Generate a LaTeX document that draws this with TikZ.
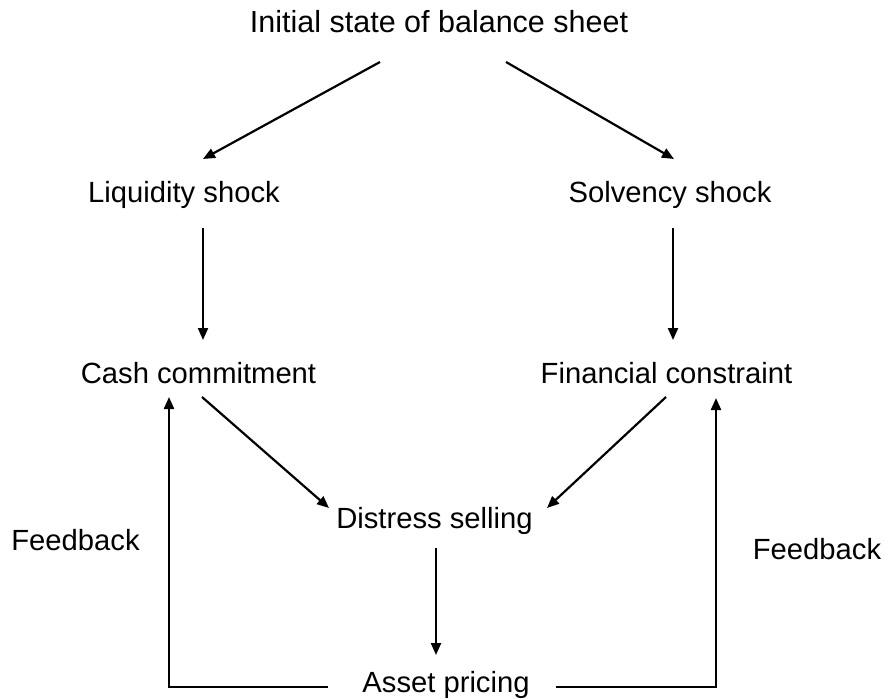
\documentclass[tikz,border=0pt]{standalone}
\usepackage{fontspec}
\setmainfont{Liberation Sans}
\usetikzlibrary{arrows.meta}
\begin{document}
\begin{tikzpicture}[x=1pt,y=-1pt,
  lbl/.style={anchor=base,inner sep=0pt,font=\fontsize{29.2}{35}\selectfont},
  arr/.style={line width=2.2pt,-{Triangle[length=12pt,width=10pt]}},
  fb/.style={line width=2.2pt,-{Triangle[length=12pt,width=10pt]}}]
\useasboundingbox (0,0) rectangle (885,700);
\node[lbl,font=\fontsize{30.5}{36}\selectfont] (init) at (439,33) {Initial state of balance sheet};
\node[lbl] (liq) at (184,203) {Liquidity shock};
\node[lbl] (solv) at (670,203) {Solvency shock};
\node[lbl] (cash) at (198.5,383) {Cash commitment};
\node[lbl] (fin) at (666.5,383) {Financial constraint};
\node[lbl] (dist) at (434.5,528) {Distress selling};
\node[lbl] (asset) at (446,692) {Asset pricing};
\node[lbl] (fbl) at (75.5,550) {Feedback};
\node[lbl] (fbr) at (817,559) {Feedback};
\draw[arr] ([shift={(-59,29)}]init.base) -- ([shift={(19,-44)}]liq.base);
\draw[arr] ([shift={(67,29)}]init.base) -- ([shift={(4,-44)}]solv.base);
\draw[arr] ([shift={(19,25)}]liq.base) -- ([shift={(4.5,-43)}]cash.base);
\draw[arr] ([shift={(3,25)}]solv.base) -- ([shift={(6.5,-43)}]fin.base);
\draw[arr] ([shift={(3.5,14)}]cash.base) -- ([shift={(-105.5,-20)}]dist.base);
\draw[arr] ([shift={(-0.5,14)}]fin.base) -- ([shift={(112.5,-20)}]dist.base);
\draw[arr] ([shift={(1.5,20)}]dist.base) -- ([shift={(-10,-37)}]asset.base);
\draw[fb] ([shift={(-118,-5)}]asset.base) -| ([shift={(-29.5,14)}]cash.base);
\draw[fb] ([shift={(110,-5)}]asset.base) -| ([shift={(49.5,15)}]fin.base);
\end{tikzpicture}
\end{document}
